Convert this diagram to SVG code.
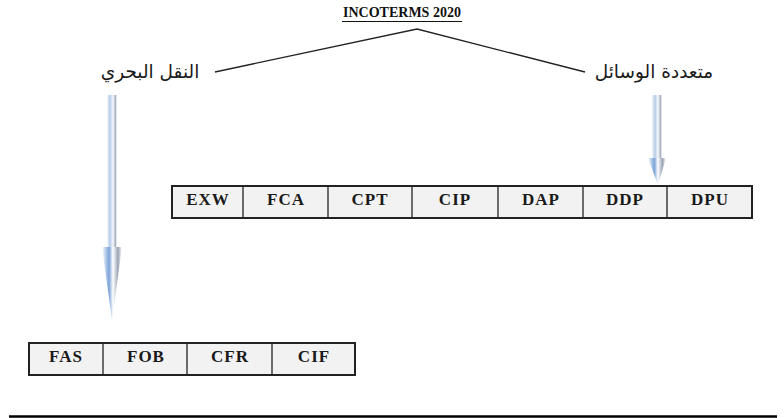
<svg xmlns="http://www.w3.org/2000/svg" width="784" height="418" viewBox="0 0 784 418">
<defs>
<linearGradient id="shaft" x1="0" y1="0" x2="1" y2="0">
<stop offset="0" stop-color="#f7f9fc"/>
<stop offset="0.3" stop-color="#b4cbe6"/>
<stop offset="0.6" stop-color="#f7f9fc"/>
<stop offset="0.85" stop-color="#a8b2c2"/>
<stop offset="1" stop-color="#ffffff"/>
</linearGradient>
<linearGradient id="head" x1="0" y1="0" x2="1" y2="0">
<stop offset="0" stop-color="#ffffff"/>
<stop offset="0.35" stop-color="#7aa2d8"/>
<stop offset="0.55" stop-color="#ffffff"/>
<stop offset="0.8" stop-color="#9aa4b6"/>
<stop offset="1" stop-color="#ffffff"/>
</linearGradient>
</defs>
<style>
.t{font-family:"Liberation Serif",serif;font-weight:bold;font-size:17px;letter-spacing:1px;fill:#1a1a1a;text-anchor:middle}
.ar{font-family:"DejaVu Sans","Noto Sans",sans-serif;font-size:18.5px;fill:#1a1a1a;text-anchor:middle}
.ln{stroke:#222;stroke-width:1.3;fill:none}
</style>
<rect width="784" height="418" fill="#ffffff"/>
<g id="title">
<text x="402" y="17" font-family="Liberation Serif, serif" font-weight="bold" font-size="14" fill="#111" text-anchor="middle">INCOTERMS 2020</text>
<line x1="342" y1="21.5" x2="462" y2="21.5" stroke="#111" stroke-width="1.2"/>
</g>
<g id="connectors">
<polyline class="ln" points="215,72 417,29 585,72"/>
<g id="arrow-left">
<rect x="107" y="95" width="10" height="152" fill="url(#shaft)"/>
<polygon points="102,247 122,247 112,320" fill="url(#head)"/>
</g>
<g id="arrow-right">
<rect x="652" y="95" width="10" height="65" fill="url(#shaft)"/>
<polygon points="648,158 666,158 658,185" fill="url(#head)"/>
</g>
</g>
<g id="label-sea"><text class="ar" x="150" y="78">النقل البحري</text></g>
<g id="label-multi"><text class="ar" x="654" y="78">متعددة الوسائل</text></g>
<g id="table-multi">
<rect x="172" y="186" width="580" height="32" fill="#f2f2f2" stroke="#222" stroke-width="2"/>
<line class="ln" x1="243" y1="186" x2="243" y2="218"/>
<line class="ln" x1="328" y1="186" x2="328" y2="218"/>
<line class="ln" x1="412" y1="186" x2="412" y2="218"/>
<line class="ln" x1="498" y1="186" x2="498" y2="218"/>
<line class="ln" x1="583" y1="186" x2="583" y2="218"/>
<line class="ln" x1="667" y1="186" x2="667" y2="218"/>
<text class="t" x="208" y="205">EXW</text>
<text class="t" x="286" y="205">FCA</text>
<text class="t" x="370" y="205">CPT</text>
<text class="t" x="455" y="205">CIP</text>
<text class="t" x="541" y="205">DAP</text>
<text class="t" x="625" y="205">DDP</text>
<text class="t" x="710" y="205">DPU</text>
</g>
<g id="table-sea">
<rect x="29" y="343" width="326" height="32" fill="#f2f2f2" stroke="#222" stroke-width="2"/>
<line class="ln" x1="103" y1="343" x2="103" y2="375"/>
<line class="ln" x1="187" y1="343" x2="187" y2="375"/>
<line class="ln" x1="272" y1="343" x2="272" y2="375"/>
<text class="t" x="66" y="362">FAS</text>
<text class="t" x="146" y="362">FOB</text>
<text class="t" x="230" y="362">CFR</text>
<text class="t" x="314" y="362">CIF</text>
</g>
<line x1="9" y1="416.5" x2="777" y2="416.5" stroke="#000" stroke-width="2.5"/>
</svg>
